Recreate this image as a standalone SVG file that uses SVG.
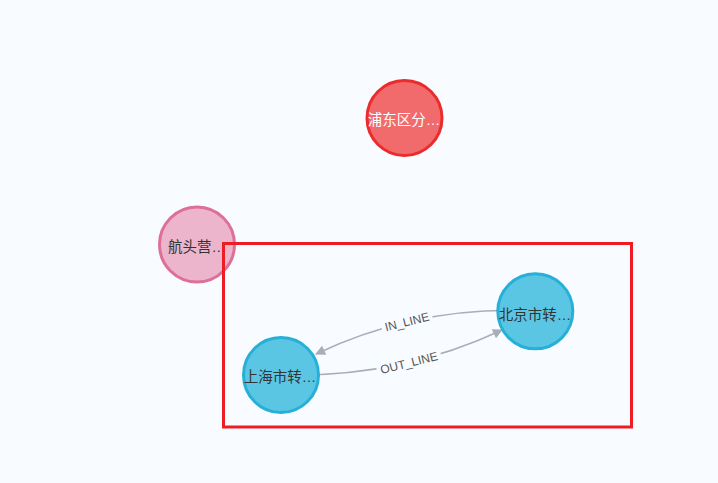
<svg xmlns="http://www.w3.org/2000/svg" width="718" height="483" viewBox="0 0 718 483">
<defs>
<style>
.node-label{font-family:"Liberation Sans","Noto Sans CJK SC",sans-serif;font-size:14.5px;text-anchor:middle;fill:#333}
.edge{fill:none;stroke:#a9adb6;stroke-width:1.5}
.edge-label{font-family:"Liberation Sans","Noto Sans CJK SC",sans-serif;font-size:12px;text-anchor:middle;fill:#555}
.blue{fill:#5ac6e3;stroke:#26b0d7;stroke-width:3}
</style>
<marker id="arrow" viewBox="0 0 10 10" refX="9" refY="5" markerWidth="11" markerHeight="10" markerUnits="userSpaceOnUse" orient="auto">
<path d="M0,0 L10,5 L0,10 z" fill="#a9adb6"/>
</marker>
</defs>
<rect x="0" y="0" width="718" height="483" fill="#f8fbff"/>
<g id="connectors">
<g id="edge-in">
<path class="edge" d="M535,311 Q420,305 316,354" marker-end="url(#arrow)"/>
<g transform="translate(407,322) rotate(-14)">
<rect x="-26" y="-8" width="52" height="15" fill="#f8fbff"/>
<text class="edge-label" x="0" y="4">IN_LINE</text>
</g>
</g>
<g id="edge-out">
<path class="edge" d="M281,375 Q400,378 502,330" marker-end="url(#arrow)"/>
<g transform="translate(409,363) rotate(-14)">
<rect x="-33" y="-8" width="66" height="15" fill="#f8fbff"/>
<text class="edge-label" x="0" y="4">OUT_LINE</text>
</g>
</g>
</g>
<g id="node-pudong">
<circle cx="404.5" cy="118" r="37.5" fill="#f26b6c" stroke="#ec2b2c" stroke-width="3"/>
<text class="node-label" x="404" y="124.5" style="fill:#fff">浦东区分…</text>
</g>
<g id="node-hangtou">
<circle cx="197" cy="244.5" r="37.5" fill="#ecb5cb" stroke="#dc7096" stroke-width="3"/>
<text class="node-label" x="197" y="252">航头营…</text>
</g>
<g id="node-shanghai">
<circle class="blue" cx="281" cy="375" r="37.5"/>
<text class="node-label" x="280" y="382">上海市转…</text>
</g>
<g id="node-beijing">
<circle class="blue" cx="535.3" cy="311.3" r="37.5"/>
<text class="node-label" x="535" y="320">北京市转…</text>
</g>
<rect id="highlight" x="223.5" y="243.5" width="408" height="183.5" fill="none" stroke="#ee1c25" stroke-width="3"/>
</svg>
